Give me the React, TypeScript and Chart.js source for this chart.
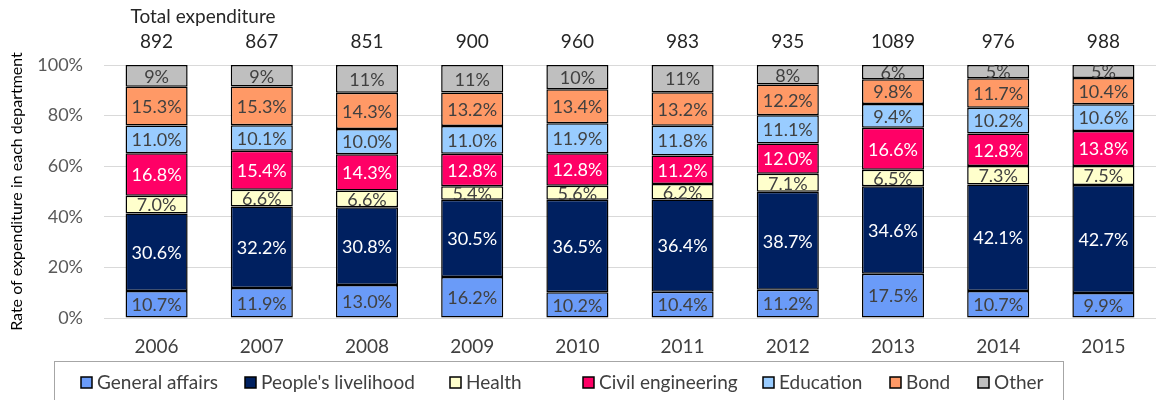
import React, { useEffect, useRef } from "react";
import { Chart, registerables } from "chart.js";

Chart.register(...registerables);

const years = ["2006", "2007", "2008", "2009", "2010", "2011", "2012", "2013", "2014", "2015"];
const totals = ["892", "867", "851", "900", "960", "983", "935", "1089", "976", "988"];
const generalAffairs = [10.7, 11.9, 13.0, 16.2, 10.2, 10.4, 11.2, 17.5, 10.7, 9.9];
const livelihood = [30.6, 32.2, 30.8, 30.5, 36.5, 36.4, 38.7, 34.6, 42.1, 42.7];
const health = [7.0, 6.6, 6.6, 5.4, 5.6, 6.2, 7.1, 6.5, 7.3, 7.5];
const civilEng = [16.8, 15.4, 14.3, 12.8, 12.8, 11.2, 12.0, 16.6, 12.8, 13.8];
const education = [11.0, 10.1, 10.0, 11.0, 11.9, 11.8, 11.1, 9.4, 10.2, 10.6];
const bond = [15.3, 15.3, 14.3, 13.2, 13.4, 13.2, 12.2, 9.8, 11.7, 10.4];
const other = [8.6, 8.5, 11.0, 10.9, 9.6, 10.8, 7.7, 5.6, 5.2, 5.1];
const yTicks = [0, 20, 40, 60, 80, 100];

const FONT = "Lato, 'Noto Sans', sans-serif";

const series = [
  { label: "General affairs", data: generalAffairs, color: "#6A9BF8", text: "#404040", dec: 1 },
  { label: "People's livelihood", data: livelihood, color: "#002060", text: "#FFFFFF", dec: 1 },
  { label: "Health", data: health, color: "#FFFFCC", text: "#404040", dec: 1 },
  { label: "Civil engineering", data: civilEng, color: "#FF0066", text: "#FFFFFF", dec: 1 },
  { label: "Education", data: education, color: "#99CCFF", text: "#404040", dec: 1 },
  { label: "Bond", data: bond, color: "#FF9966", text: "#404040", dec: 1 },
  { label: "Other", data: other, color: "#BFBFBF", text: "#404040", dec: 0 },
];

const legendX = [81, 245, 450, 583, 763, 890, 978];

const overlay = {
  id: "overlay",
  afterDatasetsDraw(chart: any) {
    const ctx = chart.ctx;
    const xs = chart.scales.x;
    ctx.save();
    // data labels
    ctx.font = `18px ${FONT}`;
    ctx.textAlign = "center";
    ctx.textBaseline = "middle";
    chart.data.datasets.forEach((ds: any, di: number) => {
      const meta = chart.getDatasetMeta(di);
      const s = series[di];
      meta.data.forEach((bar: any, i: number) => {
        const v = ds.data[i];
        const cy = (bar.y + bar.base) / 2;
        ctx.fillStyle = s.text;
        ctx.fillText(v.toFixed(s.dec) + "%", bar.x, cy + 1);
      });
    });
    // totals
    ctx.fillStyle = "#262626";
    ctx.font = `19px ${FONT}`;
    years.forEach((_, i) => {
      const x = xs.getPixelForValue(i);
      ctx.fillText(totals[i], x, 42);
    });
    ctx.fillText("Total expenditure", 203, 17);
    // legend
    ctx.strokeStyle = "#A6A6A6";
    ctx.lineWidth = 1;
    ctx.strokeRect(54.5, 361.5, 1009, 50);
    ctx.font = `19px ${FONT}`;
    ctx.textAlign = "left";
    series.forEach((s, i) => {
      const x = legendX[i];
      ctx.fillStyle = s.color;
      ctx.fillRect(x, 377, 11, 11);
      ctx.strokeStyle = "#000";
      ctx.lineWidth = 1.5;
      ctx.strokeRect(x, 377, 11, 11);
      ctx.fillStyle = "#404040";
      ctx.fillText(s.label, x + 16, 383);
    });
    ctx.restore();
  },
};

export default function App() {
  const ref = useRef<HTMLCanvasElement>(null);
  useEffect(() => {
    document.body.style.margin = "0";
    const chart = new Chart(ref.current as HTMLCanvasElement, {
      type: "bar",
      data: {
        labels: years,
        datasets: series.map((s) => ({
          label: s.label,
          data: s.data,
          backgroundColor: s.color,
          borderColor: "#000000",
          borderWidth: 1.5,
          borderSkipped: false,
          categoryPercentage: 1,
          barPercentage: 0.59,
        })),
      },
      options: {
        animation: false,
        responsive: false,
        maintainAspectRatio: false,
        layout: { padding: { top: 65, left: 0, right: 0, bottom: 42 } },
        plugins: { legend: { display: false }, tooltip: { enabled: false } },
        scales: {
          x: {
            stacked: true,
            grid: { display: false, drawTicks: false },
            border: { display: true, color: "#D9D9D9", width: 1 },
            ticks: { color: "#404040", font: { family: FONT, size: 19 }, padding: 17 },
            afterFit: (s: any) => {
              s.height = 40;
            },
          },
          y: {
            stacked: true,
            min: 0,
            max: 100,
            afterBuildTicks: (s: any) => {
              s.ticks = yTicks.map((v) => ({ value: v }));
            },
            grid: { color: "#D9D9D9", lineWidth: 1, drawTicks: false },
            border: { display: false },
            ticks: {
              color: "#595959",
              font: { family: FONT, size: 18 },
              padding: 21,
              callback: (v: any) => v + "%",
            },
            title: {
              display: true,
              text: "Rate of expenditure in each department",
              color: "#000000",
              font: { family: FONT, size: 16 },
              padding: { top: 7, bottom: 4 },
            },
            afterFit: (s: any) => {
              s.width = 104;
            },
          },
        },
      },
      plugins: [overlay],
    });
    return () => chart.destroy();
  }, []);
  return (
    <div style={{ width: 1156, height: 400 }}>
      <canvas ref={ref} width={1156} height={400} style={{ display: "block" }} />
    </div>
  );
}
